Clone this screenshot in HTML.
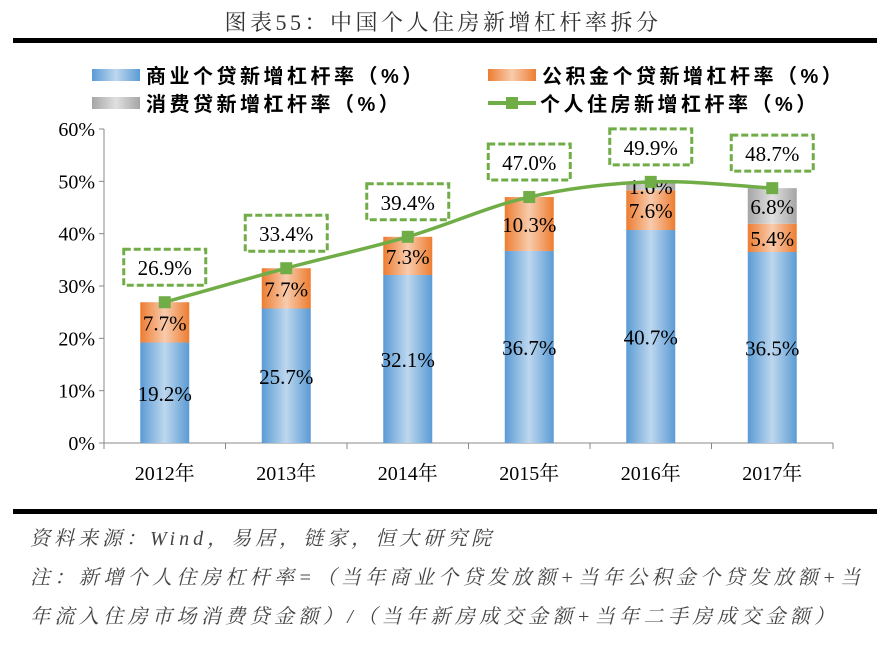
<!DOCTYPE html>
<html><head><meta charset="utf-8"><style>
body{margin:0;background:#fff;width:886px;height:651px;overflow:hidden;position:relative;font-family:"Liberation Serif","Noto Serif CJK SC",serif}
.t{position:absolute;white-space:nowrap}
</style></head><body>
<div class="t" style="left:0;width:886px;text-align:center;top:6px;font-size:22px;color:#333;letter-spacing:3.5px;font-family:'Liberation Serif','Noto Serif CJK SC',serif">图表55：中国个人住房新增杠杆率拆分</div>
<div style="position:absolute;left:13px;top:38px;width:864px;height:5px;background:#000"></div>
<svg id="chart" width="886" height="651" style="position:absolute;left:0;top:0">
<defs>
<linearGradient id="gb" x1="0" x2="1"><stop offset="0" stop-color="#5b9bd5"/><stop offset="0.5" stop-color="#bdd7ee"/><stop offset="1" stop-color="#5b9bd5"/></linearGradient>
<linearGradient id="go" x1="0" x2="1"><stop offset="0" stop-color="#ed7d31"/><stop offset="0.5" stop-color="#f8cbad"/><stop offset="1" stop-color="#ed7d31"/></linearGradient>
<linearGradient id="gg" x1="0" x2="1"><stop offset="0" stop-color="#a5a5a5"/><stop offset="0.5" stop-color="#e0e0e0"/><stop offset="1" stop-color="#a5a5a5"/></linearGradient>
</defs>
</svg>
<div style="position:absolute;left:13px;top:509px;width:864px;height:5px;background:#000"></div>
<div class="t" style="left:30px;top:522px;font-size:20px;color:#444;font-style:italic;letter-spacing:4px;font-family:'Liberation Serif','Noto Serif CJK SC',serif">资料来源：Wind，易居，链家，恒大研究院</div>
<div class="t" style="left:30px;top:561px;font-size:20px;color:#444;font-style:italic;letter-spacing:4.4px;font-family:'Liberation Serif','Noto Serif CJK SC',serif">注：新增个人住房杠杆率=（当年商业个贷发放额+当年公积金个贷发放额+当</div>
<div class="t" style="left:30px;top:600px;font-size:20px;color:#444;font-style:italic;letter-spacing:4.4px;font-family:'Liberation Serif','Noto Serif CJK SC',serif">年流入住房市场消费贷金额）/（当年新房成交金额+当年二手房成交金额）</div>
<script>
const categories=["2012年","2013年","2014年","2015年","2016年","2017年"];
const commercial=[19.2,25.7,32.1,36.7,40.7,36.5];
const provident=[7.7,7.7,7.3,10.3,7.6,5.4];
const consumer=[0,0,0,0,1.6,6.8];
const total=[26.9,33.4,39.4,47.0,49.9,48.7];
const yTicks=[0,10,20,30,40,50,60];
const NS="http://www.w3.org/2000/svg";
const svg=document.getElementById('chart');
const X0=104,X1=833,Y0=443,Y60=129;
const bw=(X1-X0)/categories.length;
function xc(i){return X0+bw*(i+0.5);}
function y(v){return Y0-(v/60)*(Y0-Y60);}
function mk(tag,attrs,parent){const e=document.createElementNS(NS,tag);for(const k in attrs)e.setAttribute(k,attrs[k]);(parent||svg).appendChild(e);return e;}
function txt(s,x,yy,size,anchor,parent){const e=mk('text',{x:x,y:yy,'font-size':size,'text-anchor':anchor||'middle','font-family':'Liberation Serif, Noto Serif CJK SC, serif',fill:'#000'},parent);e.textContent=s;return e;}
const ax=mk('line',{x1:X0,y1:Y60,x2:X0,y2:Y0,stroke:'#888','stroke-width':1});

const bx=mk('line',{x1:X0,y1:Y0,x2:X1,y2:Y0,stroke:'#888','stroke-width':1});

yTicks.forEach(v=>{
  mk('line',{x1:X0-5,y1:y(v),x2:X0,y2:y(v),stroke:'#888'});
  const t=txt(v+'%',X0-9,y(v)+7,20,'end');
  
});
for(let i=0;i<=categories.length;i++){mk('line',{x1:X0+bw*i,y1:Y0,x2:X0+bw*i,y2:Y0+6,stroke:'#888'});}
categories.forEach((c,i)=>{
  const t=txt(c,xc(i),Y0+37,20);
  
});
const W=49;
categories.forEach((c,i)=>{
  let base=0;
  [[commercial,'url(#gb)','bar-commercial'],[provident,'url(#go)','bar-provident'],[consumer,'url(#gg)','bar-consumer']].forEach(([arr,fill,nm])=>{
    const v=arr[i];if(v<=0)return;
    const r=mk('rect',{x:xc(i)-W/2,y:y(base+v),width:W,height:y(base)-y(base+v),fill:fill});
    
    base+=v;
  });
});
categories.forEach((c,i)=>{
  let base=0;
  [commercial,provident,consumer].forEach(arr=>{
    const v=arr[i];if(v<=0)return;
    const t=txt(v.toFixed(1)+'%',xc(i),y(base+v/2)+8,21);
    
    base+=v;
  });
});
const pts=total.map((v,i)=>[xc(i),y(v)]);
let d='M'+pts[0][0]+','+pts[0][1];
for(let i=0;i<pts.length-1;i++){
  const p0=pts[Math.max(0,i-1)],p1=pts[i],p2=pts[i+1],p3=pts[Math.min(pts.length-1,i+2)];
  const t=1/6;
  d+=' C'+(p1[0]+(p2[0]-p0[0])*t)+','+(p1[1]+(p2[1]-p0[1])*t)+' '+(p2[0]-(p3[0]-p1[0])*t)+','+(p2[1]-(p3[1]-p1[1])*t)+' '+p2[0]+','+p2[1];
}
const ln=mk('path',{d:d,fill:'none',stroke:'#70ad47','stroke-width':3.5});

pts.forEach((p,i)=>{
  const m=mk('rect',{x:p[0]-6,y:p[1]-6,width:12,height:12,fill:'#70ad47'});
  
  const bxr=mk('rect',{x:p[0]-41,y:p[1]-53,width:82,height:36,fill:'#fff',stroke:'#70ad47','stroke-width':3,'stroke-dasharray':'7,3'});
  
  const t=txt(total[i].toFixed(1)+'%',p[0],p[1]-27,21);
  
});
const lg=[[92,75,'url(#gb)','商业个贷新增杠杆率（%）','legend-commercial'],[488,75,'url(#go)','公积金个贷新增杠杆率（%）','legend-provident'],[92,103,'url(#gg)','消费贷新增杠杆率（%）','legend-consumer']];
lg.forEach(([lx,ly,f,s,nm])=>{
  const g=mk('g',{});
  mk('rect',{x:lx,y:ly-6,width:48,height:12,fill:f},g);
  const t=mk('text',{x:lx+54,y:ly+8,'font-size':20,'letter-spacing':3.5,'font-family':'Liberation Sans, Noto Sans CJK SC, sans-serif','font-weight':'bold',fill:'#000'},g);t.textContent=s;
});
const g4=mk('g',{});
mk('line',{x1:488,y1:103,x2:536,y2:103,stroke:'#70ad47','stroke-width':4},g4);
mk('rect',{x:506,y:97,width:12,height:12,fill:'#70ad47'},g4);
const t4=mk('text',{x:540,y:111,'font-size':20,'letter-spacing':3.5,'font-family':'Liberation Sans, Noto Sans CJK SC, sans-serif','font-weight':'bold',fill:'#000'},g4);t4.textContent='个人住房新增杠杆率（%）';
</script>
</body></html>
